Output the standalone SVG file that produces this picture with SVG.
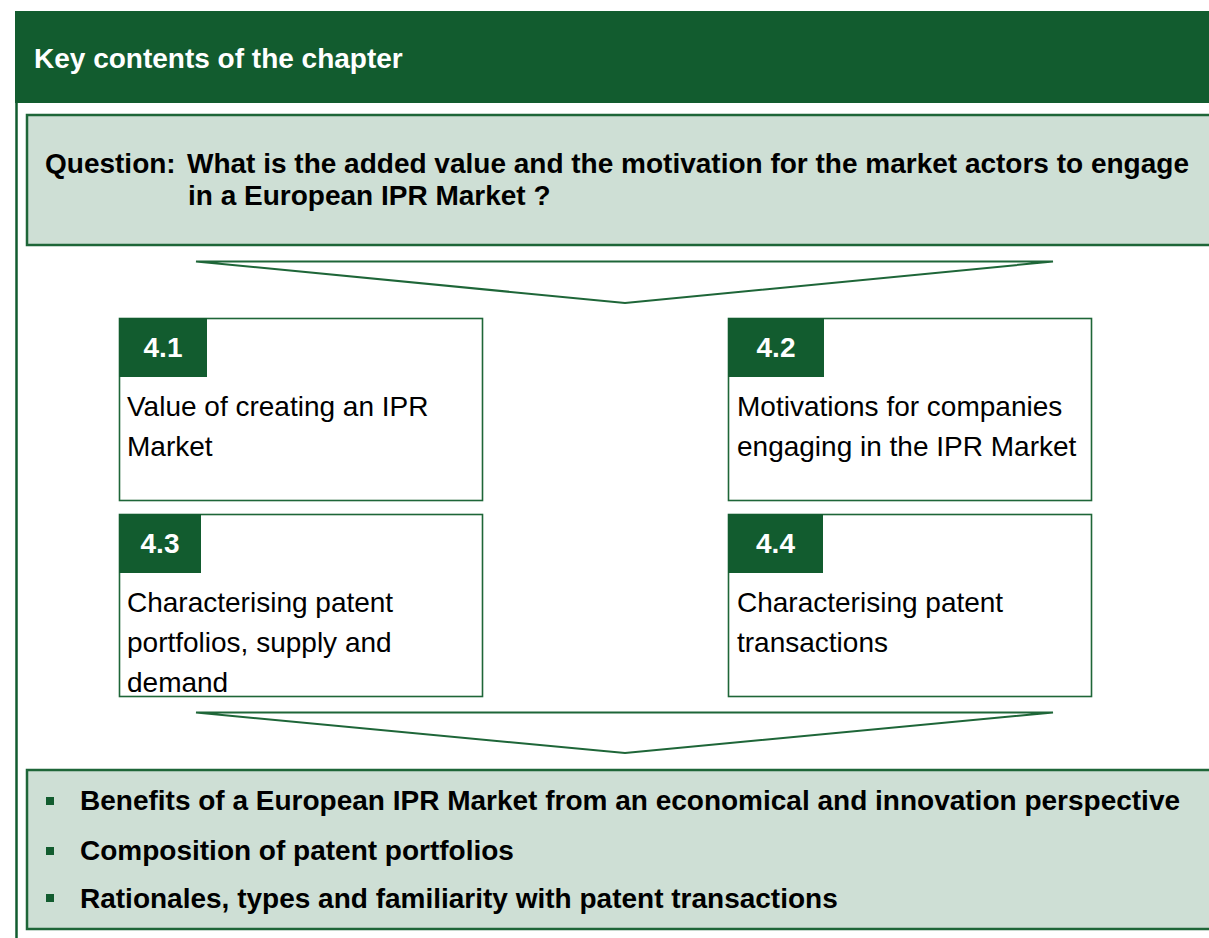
<svg xmlns="http://www.w3.org/2000/svg" width="1209" height="938" viewBox="0 0 1209 938">
<style>
.hdr{fill:#125C2F}
.panel{fill:#CEDFD5;stroke:#1E6638;stroke-width:2.5}
.box{fill:#FFFFFF;stroke:#1E6638;stroke-width:1.6}
.tab{fill:#125C2F}
.tri{fill:#FFFFFF;stroke:#1E6638;stroke-width:2}
.bold{font-family:"Liberation Sans",Arial,sans-serif;font-weight:bold;font-size:28px}
.reg{font-family:"Liberation Sans",Arial,sans-serif;font-size:28px;fill:#000}
.w{fill:#FFFFFF}
.k{fill:#000000}
.bul{fill:#125C2F}
</style>
<rect x="0" y="0" width="1209" height="938" fill="#FFFFFF"/>
<g id="frame">
<line x1="16.5" y1="11" x2="16.5" y2="938" stroke="#125C2F" stroke-width="2.5"/>
</g>
<g id="header">
<rect class="hdr" x="15" y="11" width="1200" height="92"/>
<text class="bold w" x="34" y="68">Key contents of the chapter</text>
</g>
<g id="question">
<rect class="panel" x="27" y="115" width="1200" height="130"/>
<text class="bold k" x="45" y="173">Question:</text>
<text class="bold k" x="187" y="173">What is the added value and the motivation for the market actors to engage</text>
<text class="bold k" x="188" y="205">in a European IPR Market ?</text>
</g>
<g id="connectors">
<polygon class="tri" points="196,261.5 1053,261.5 625,303"/>
<polygon class="tri" points="196,712.5 1053,712.5 625,753"/>
</g>
<g id="box41">
<rect class="box" x="119.5" y="318.5" width="363" height="182"/>
<rect class="tab" x="119" y="318" width="88" height="59"/>
<text class="bold w" x="163" y="357" text-anchor="middle">4.1</text>
<text class="reg" x="127" y="416">Value of creating an IPR</text>
<text class="reg" x="127" y="456">Market</text>
</g>
<g id="box42">
<rect class="box" x="728.5" y="318.5" width="363" height="182"/>
<rect class="tab" x="728" y="318" width="96" height="59"/>
<text class="bold w" x="776" y="357" text-anchor="middle">4.2</text>
<text class="reg" x="737" y="416">Motivations for companies</text>
<text class="reg" x="737" y="456">engaging in the IPR Market</text>
</g>
<g id="box43">
<rect class="box" x="119.5" y="514.5" width="363" height="182"/>
<rect class="tab" x="119" y="514" width="82" height="59"/>
<text class="bold w" x="160" y="553" text-anchor="middle">4.3</text>
<text class="reg" x="127" y="612">Characterising patent</text>
<text class="reg" x="127" y="652">portfolios, supply and</text>
<text class="reg" x="127" y="692">demand</text>
</g>
<g id="box44">
<rect class="box" x="728.5" y="514.5" width="363" height="182"/>
<rect class="tab" x="728" y="514" width="95" height="59"/>
<text class="bold w" x="775.5" y="553" text-anchor="middle">4.4</text>
<text class="reg" x="737" y="612">Characterising patent</text>
<text class="reg" x="737" y="652">transactions</text>
</g>
<g id="results">
<rect class="panel" x="27" y="770" width="1200" height="159"/>
<rect class="bul" x="46" y="797" width="8" height="8"/>
<rect class="bul" x="46" y="847" width="8" height="8"/>
<rect class="bul" x="46" y="894" width="8" height="8"/>
<text class="bold k" x="80" y="810">Benefits of a European IPR Market from an economical and innovation perspective</text>
<text class="bold k" x="80" y="860">Composition of patent portfolios</text>
<text class="bold k" x="80" y="908">Rationales, types and familiarity with patent transactions</text>
</g>
</svg>
